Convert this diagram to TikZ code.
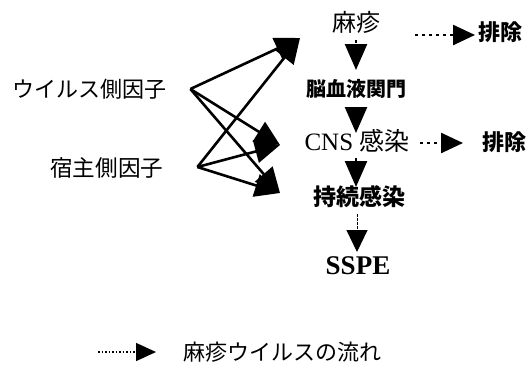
\documentclass[tikz,border=0pt]{standalone}
\usepackage{fontspec}
\setmainfont{Liberation Serif}
\newfontfamily\jp{Noto Sans CJK JP}
\usetikzlibrary{arrows.meta}
\begin{document}
\begin{tikzpicture}[x=1pt,y=-1pt,
  jt/.style={inner sep=0pt, font={\jp\fontsize{#1}{#1}\selectfont}},
  jb/.style={inner sep=0pt, font={\jp\bfseries\fontsize{#1}{#1}\selectfont}},
  lt/.style={inner sep=0pt, font={\fontsize{#1}{#1}\selectfont}},
  flow/.style={line width=2.5pt, dash pattern=on 2.5pt off 4.5pt, -{Triangle[length=22pt,width=20pt]}},
  flowv/.style={line width=2.5pt, dash pattern=on 2.5pt off 8pt, -{Triangle[length=26pt,width=22pt]}},
  flowd/.style={line width=1pt, dash pattern=on 3pt off 1pt, -{Triangle[length=22pt,width=21pt]}},
  factor/.style={line width=2.6pt, -{Triangle[length=25pt,width=23pt]}}]
\useasboundingbox (0,0) rectangle (530,381);
\fill[white] (0,0) rectangle (530,381);
% main chain
\node[jt=24] (mz) at (356,22) {麻疹};
\node[jb=20] (bbb) at (356,89) {脳血液関門};
\node[lt=25] (cns) at (357,141) {CNS {\jp 感染}};
\node[jb=23] (pi) at (359,197) {持続感染};
\node[inner sep=0pt, font={\bfseries\fontsize{27}{27}\selectfont}] (sspe) at (358,266) {SSPE};
\node[jb=22, anchor=west] (ex1) at (478,32) {排除};
\node[jb=22, anchor=west] (ex2) at (482,142) {排除};
% factors
\node[jt=22, anchor=west] (vf) at (12,89) {ウイルス側因子};
\node[jt=22.6, anchor=west] (hf) at (50,168) {宿主側因子};
% legend
\node[jt=22, anchor=west] (lg) at (183,352) {麻疹ウイルスの流れ};
\coordinate (lgs) at (98,352);
% vertical flow
\draw[flowv] ([shift={(0,18)}]mz.center) -- ([shift={(0,-19)}]bbb.center);
\draw[flowv] ([shift={(0,19)}]bbb.center) -- ([shift={(-1,-8)}]cns.center);
\draw[flowv] ([shift={(-1,17)}]cns.center) -- ([shift={(-3,-10)}]pi.center);
\draw[flowd] ([shift={(-2,17)}]pi.center) -- ([shift={(-1,-14)}]sspe.center);
% elimination
\draw[flow] ([shift={(59,13)}]mz.center) -- ([shift={(-3,3)}]ex1.west);
\draw[flow] ([shift={(63,2)}]cns.center) -- ([shift={(-19,1)}]ex2.west);
% legend arrow
\draw[line width=1.5pt, dash pattern=on 1.5pt off 2pt, -{Triangle[length=20pt,width=18pt]}] (lgs) -- ([xshift=-27]lg.west);
% factor arrows
\draw[factor] ([shift={(24,0)}]vf.east) -- ([shift={(-56,16)}]mz.center);
\draw[factor] ([shift={(24,0)}]vf.east) -- ([shift={(-77,4)}]cns.center);
\draw[factor] ([shift={(24,0)}]vf.east) -- ([shift={(-79,-4)}]pi.center);
\draw[factor] ([shift={(34,-1)}]hf.east) -- ([shift={(-56,16)}]mz.center);
\draw[factor] ([shift={(34,-1)}]hf.east) -- ([shift={(-77,4)}]cns.center);
\draw[factor] ([shift={(34,-1)}]hf.east) -- ([shift={(-79,-4)}]pi.center);
\end{tikzpicture}
\end{document}
